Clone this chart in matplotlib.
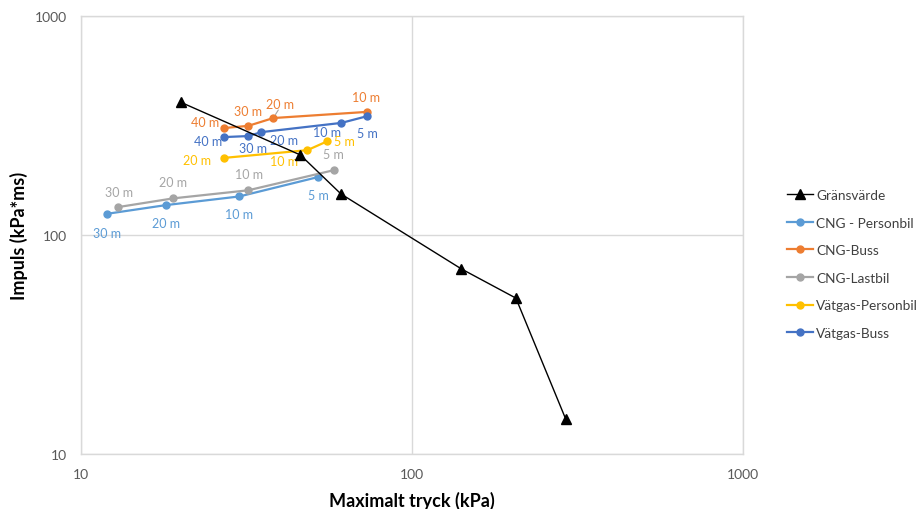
import matplotlib
matplotlib.use("Agg")
import matplotlib.pyplot as plt
from matplotlib.ticker import FixedLocator, NullLocator, FixedFormatter

plt.rcParams['font.family'] = ['Lato', 'DejaVu Sans']

# ---- data ----
grans_x = [20, 46, 61, 141, 206, 291]
grans_y = [404, 232, 154, 70, 51.5, 14.5]

cng_pb_x = [12.0, 18.1, 30.1, 52.1]
cng_pb_y = [125, 137, 150, 184]
cng_pb_lab = ["30 m", "20 m", "10 m", "5 m"]

cng_buss_x = [27.1, 32.0, 38.1, 73.3]
cng_buss_y = [308, 315, 342, 365]
cng_buss_lab = ["40 m", "30 m", "20 m", "10 m"]

cng_lb_x = [12.9, 19.0, 32.0, 58.3]
cng_lb_y = [134, 147, 160, 198]
cng_lb_lab = ["30 m", "20 m", "10 m", "5 m"]

vg_pb_x = [27.1, 48.3, 55.5]
vg_pb_y = [225, 244, 268]
vg_pb_lab = ["20 m", "10 m", "5 m"]

vg_buss_x = [27.1, 32.0, 35.1, 61.2, 73.3]
vg_buss_y = [280, 283, 295, 325, 349]
vg_buss_lab = ["40 m", "30 m", "20 m", "10 m", "5 m"]

ticks = [10, 100, 1000]
tick_labels = ["10", "100", "1000"]

# ---- style ----
C_PB = "#5B9BD5"
C_BUSS = "#ED7D31"
C_LB = "#A5A5A5"
C_VPB = "#FFC000"
C_VB = "#4472C4"

fig = plt.figure(figsize=(9.2, 5.1), dpi=100)
ax = fig.add_axes([81/920, 1-455/510, (743-81)/920, (455-17)/510])
ax.set_xscale('log')
ax.set_yscale('log')
ax.set_xlim(10, 1000)
ax.set_ylim(10, 1000)

ax.xaxis.set_major_locator(FixedLocator(ticks))
ax.yaxis.set_major_locator(FixedLocator(ticks))
ax.xaxis.set_major_formatter(FixedFormatter(tick_labels))
ax.yaxis.set_major_formatter(FixedFormatter(tick_labels))
ax.xaxis.set_minor_locator(NullLocator())
ax.yaxis.set_minor_locator(NullLocator())
ax.tick_params(length=0, labelsize=10, colors="#595959", pad=10)
ax.grid(True, color="#D9D9D9", linewidth=1)
for s in ax.spines.values():
    s.set_color("#D9D9D9")
    s.set_linewidth(1)
ax.set_axisbelow(True)

lw = 1.6
ms = 5
ax.plot(grans_x, grans_y, color="black", lw=1.0, marker="^", ms=7.5, label="Gränsvärde", zorder=5)
ax.plot(cng_pb_x, cng_pb_y, color=C_PB, lw=lw, marker="o", ms=ms, label="CNG - Personbil")
ax.plot(cng_buss_x, cng_buss_y, color=C_BUSS, lw=lw, marker="o", ms=ms, label="CNG-Buss")
ax.plot(cng_lb_x, cng_lb_y, color=C_LB, lw=lw, marker="o", ms=ms, label="CNG-Lastbil")
ax.plot(vg_pb_x, vg_pb_y, color=C_VPB, lw=lw, marker="o", ms=ms, label="Vätgas-Personbil")
ax.plot(vg_buss_x, vg_buss_y, color=C_VB, lw=lw, marker="o", ms=ms, label="Vätgas-Buss")

def labels(xs, ys, labs, offs, color):
    for x, y, t, (dx, dy) in zip(xs, ys, labs, offs):
        ax.annotate(t, (x, y), xytext=(dx*0.72, dy*0.72), textcoords="offset points",
                    ha="center", va="center", fontsize=9, color=color)

# offsets in pixels (dx right, dy up)
labels(cng_pb_x, cng_pb_y, cng_pb_lab, [(0, -19), (0, -18), (0, -18), (0, -18)], C_PB)
labels(cng_lb_x, cng_lb_y, cng_lb_lab, [(1, 15), (0, 16), (1, 16), (-1, 16)], C_LB)
labels(cng_buss_x, cng_buss_y, cng_buss_lab, [(-19, 6), (0, 15), (7, 14), (-1, 15)], C_BUSS)
labels(vg_buss_x, vg_buss_y, vg_buss_lab, [(-16, -4), (5, -12), (23, -8), (-14, -9), (0, -17)], C_VB)
labels(vg_pb_x, vg_pb_y, vg_pb_lab, [(-27, -2), (-23, -11), (17, 0)], C_VPB)

# leader line for CNG-Buss 20 m label
ax.annotate("", (cng_buss_x[2], cng_buss_y[2]), xytext=(5*0.72, 8*0.72), textcoords="offset points",
            arrowprops=dict(arrowstyle="-", color="#A5A5A5", lw=0.8, shrinkA=0, shrinkB=3))

ax.set_xlabel("Maximalt tryck (kPa)", fontsize=13, fontweight="bold", color="black", labelpad=8)
ax.set_ylabel("Impuls (kPa*ms)", fontsize=13, fontweight="bold", color="black", labelpad=5)

leg = fig.legend(loc="center left", bbox_to_anchor=(780/920, 1-265/510), frameon=False,
                 fontsize=9.8, labelspacing=1.15, handlelength=1.9, handletextpad=0.25,
                 borderpad=0, labelcolor="#404040")

fig.savefig("out.png", dpi=100, facecolor="white")
